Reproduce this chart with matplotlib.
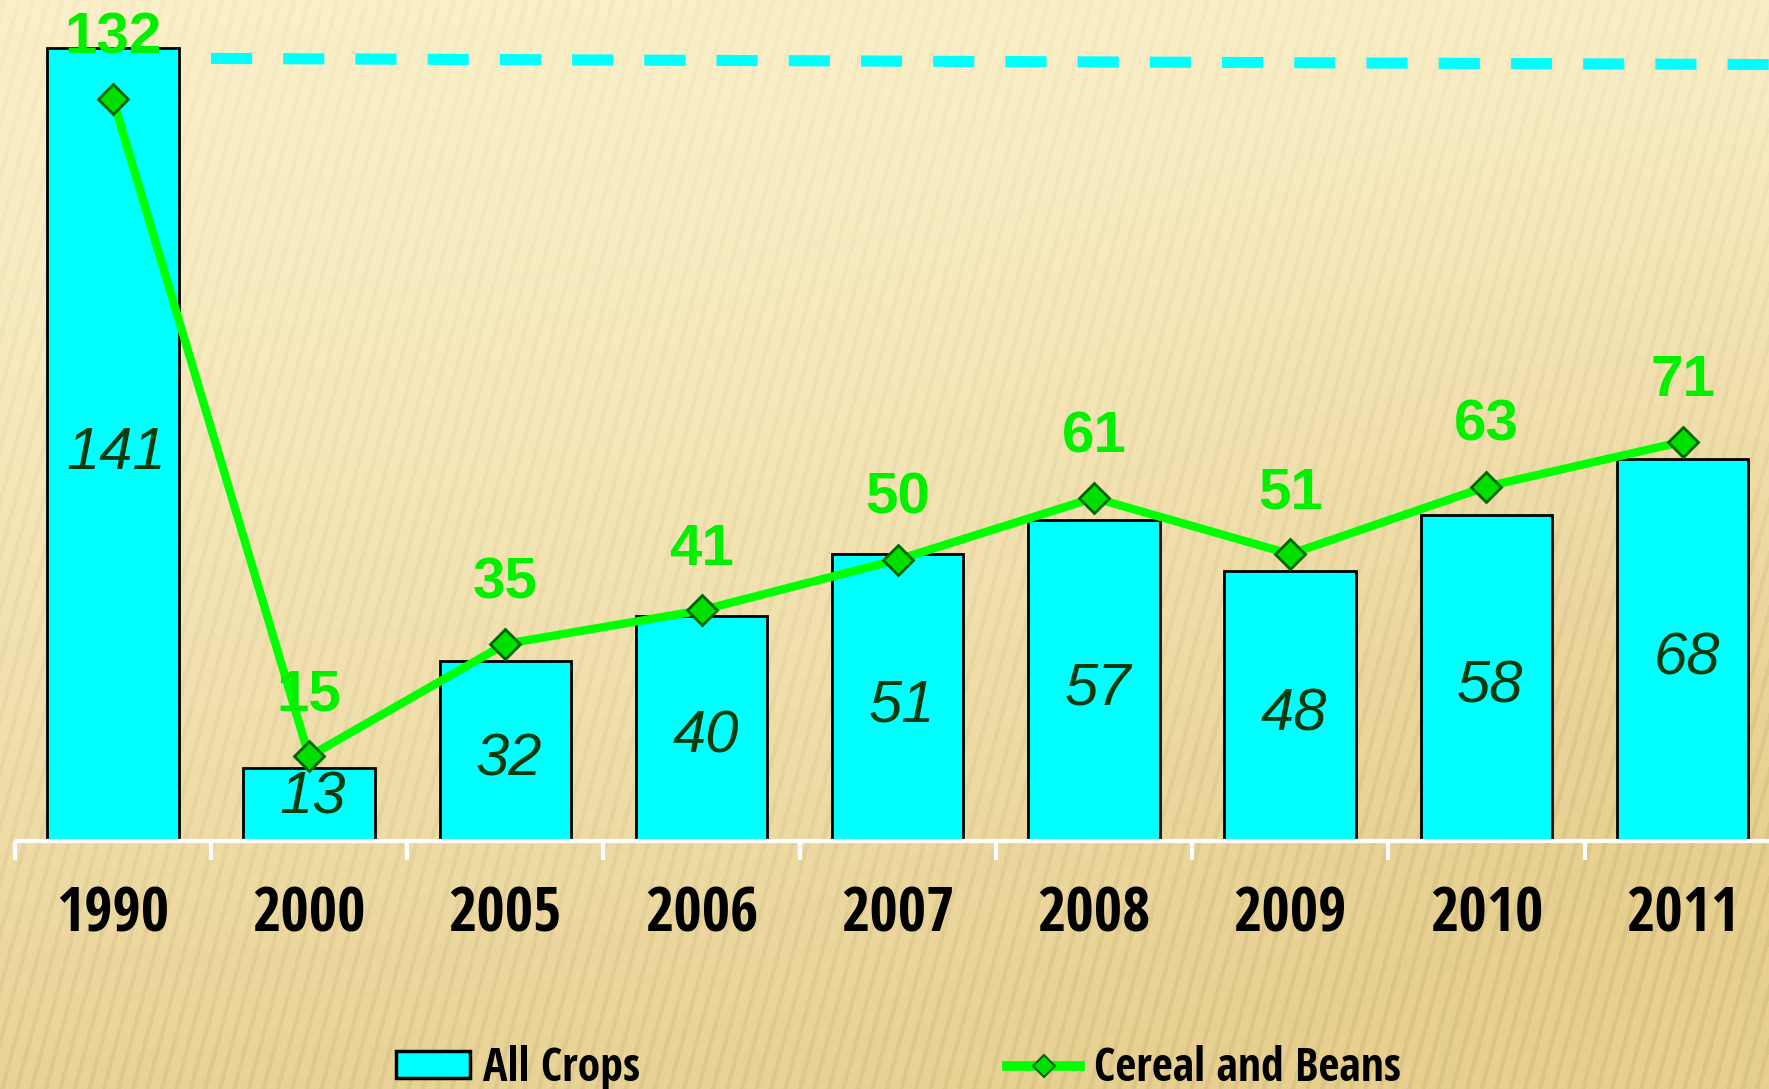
import numpy as np
import matplotlib
matplotlib.use("Agg")
import matplotlib.pyplot as plt
from matplotlib.patches import Patch
from matplotlib.lines import Line2D
from matplotlib.font_manager import FontProperties

years = ["1990", "2000", "2005", "2006", "2007", "2008", "2009", "2010", "2011"]
all_crops = [141, 13, 32, 40, 51, 57, 48, 58, 68]
cereal_beans = [132, 15, 35, 41, 50, 61, 51, 63, 71]
ref_line = [139.2, 138.1]  # dashed cyan line, left and right end

cyan = "#00ffff"
green = "#00ff00"
narrow = ["Open Sans Condensed", "DejaVu Sans"]
sans = ["Liberation Sans", "DejaVu Sans"]

fig = plt.figure(figsize=(17.69, 10.89), dpi=100)
ax = fig.add_axes([0, 0, 1, 1])
x0, x1 = -0.575, 8.44
y0, y1 = -44.2, 149.6

# background: beige gradient with slanted stripes
H, W = 1089, 1769
yy, xx = np.mgrid[0:H, 0:W].astype(float)
t = 0.08 + 0.8 * (yy / H) ** 1.4
blob = np.exp(-(((xx - 1750) / 700.0) ** 2 + ((yy - 700) / 500.0) ** 2))
t = np.clip(t + 0.35 * blob, 0, 1)
ang = np.deg2rad(75)
phase = (xx * np.sin(ang) + yy * np.cos(ang)) / 14.0
stripe = np.sin(2 * np.pi * phase)
light = np.array([253, 242, 205]) / 255.0
dark = np.array([230, 207, 143]) / 255.0
img = light[None, None, :] * (1 - t[..., None]) + dark[None, None, :] * t[..., None]
img = img - (0.018 + 0.025 * t[..., None]) * (stripe[..., None] > 0.55)
img = np.clip(img, 0, 1)
ax.imshow(img, extent=[x0, x1, y0, y1], aspect="auto", zorder=0, interpolation="bilinear")

x = np.arange(len(years))
ax.bar(x, all_crops, width=0.67, color=cyan, edgecolor="black", linewidth=2, zorder=2)
ax.plot([0.5, 8.5], ref_line, color=cyan, lw=8, dashes=(3.7, 2.8),
        solid_capstyle="butt", dash_capstyle="butt", zorder=2)
ax.plot(x, cereal_beans, color=green, lw=6, marker="D", ms=15,
        mfc="#00e000", mec="#006600", mew=2, zorder=4)

# axis baseline and ticks
ax.hlines(0, -0.5, x1, color="white", lw=3, zorder=5)
ax.vlines(np.arange(len(years) + 1) - 0.5, -3.4, 0, color="white", lw=3, zorder=5)

for i in range(len(years)):
    ax.text(x[i], -13.4, years[i], ha="center", va="center", fontsize=44,
            fontweight="bold", family=narrow, color="black", zorder=6)
    ax.text(x[i] + 0.02, max(all_crops[i] / 2 - 1.6, 7.6), str(all_crops[i]),
            ha="center", va="center", fontsize=43, style="italic",
            family=sans, color="#0b3a0b", zorder=3)
    ax.text(x[i], cereal_beans[i] + 10.8, str(cereal_beans[i]), ha="center",
            va="center", fontsize=42, fontweight="bold", family=sans,
            color="#00f000", zorder=6)

ax.set_xlim(x0, x1)
ax.set_ylim(y0, y1)
ax.axis("off")

handles = [Patch(facecolor=cyan, edgecolor="black", lw=2.5, label="All Crops"),
           Line2D([], [], color=green, lw=7, marker="D", ms=11, mfc="#00e000",
                  mec="#006600", mew=1.5, label="Cereal and Beans")]
fig.legend(handles=handles, loc="center", bbox_to_anchor=(0.508, 0.019), ncol=2,
           frameon=False, prop=FontProperties(family=narrow, weight="bold", size=33),
           handlelength=1.6, handleheight=0.5, handletextpad=0.3, columnspacing=8.0)

fig.savefig("out.png", dpi=100)
